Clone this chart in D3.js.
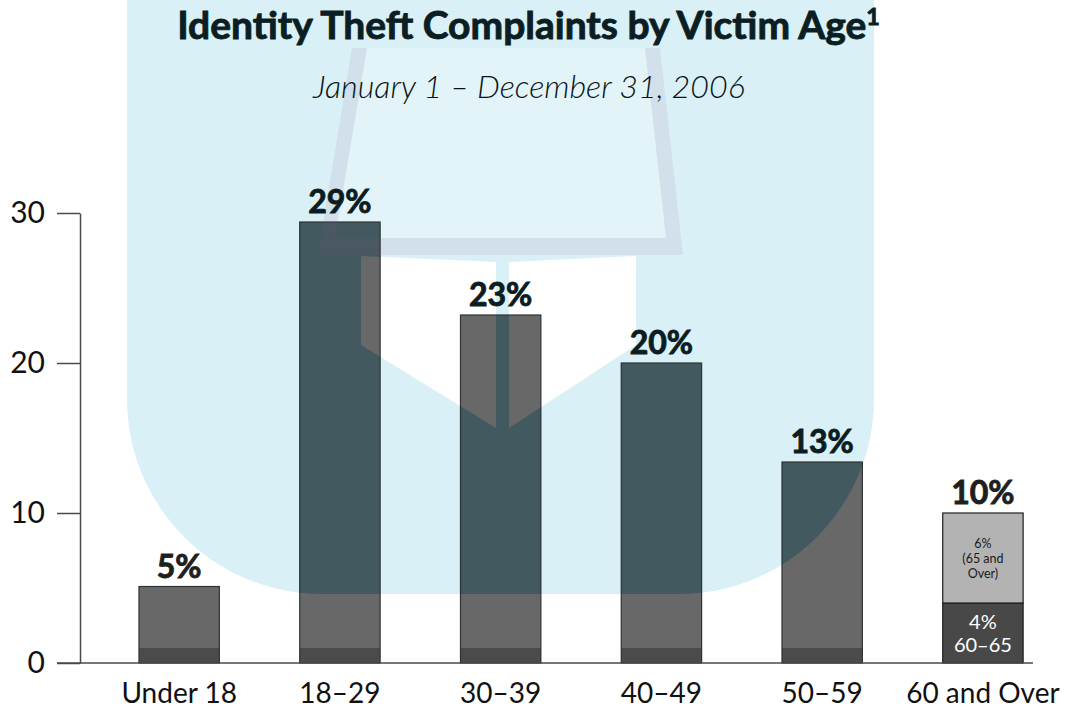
<!DOCTYPE html>
<html>
<head>
<meta charset="utf-8">
<script src="https://cdn.jsdelivr.net/npm/d3@7"></script>
<style>
  html, body { margin: 0; padding: 0; background: #fff; }
  svg { display: block; font-family: Lato, "Open Sans", sans-serif; }
</style>
</head>
<body>
<svg id="chart" width="1081" height="710"></svg>
<script>
// ---- data ----
const categories = ["Under 18", "18–29", "30–39", "40–49", "50–59", "60 and Over"];
const shares = [5.1, 29.4, 23.2, 20, 13.4, 10];
const yTicks = [0, 10, 20, 30];
const breakdownCategory = "60 and Over";
const seniorGroups = ["60–65", "65 and Over"];
const seniorShares = [4, 6];
const seniorLines = [["4%", "60–65"], ["6%", "(65 and", "Over)"]];
const titleText = "Identity Theft Complaints by Victim Age";
const titleNote = "1";
const subtitleText = "January 1 – December 31, 2006";

// ---- layout ----
const W = 1081, H = 710;
const svg = d3.select("#chart");
const y = d3.scaleLinear().domain([0, 30]).range([663, 213]);
const x = d3.scaleBand().domain(categories).range([58.6, 1103.5])
  .paddingInner(0.5).paddingOuter(0.5);
const plinth = 1;            // darker foot of each bar, in axis units

// light-blue backdrop panel with a rounded lower edge
const panel = { x0: 127, x1: 874, bottom: 594, r: 195 };
function inPanel(px, py) {
  if (px < panel.x0 || px > panel.x1 || py > panel.bottom) return false;
  const cy = panel.bottom - panel.r;
  if (py <= cy) return true;
  if (px < panel.x0 + panel.r) return (px - panel.x0 - panel.r) ** 2 + (py - cy) ** 2 <= panel.r ** 2;
  if (px > panel.x1 - panel.r) return (px - panel.x1 + panel.r) ** 2 + (py - cy) ** 2 <= panel.r ** 2;
  return true;
}
// open-book pages sitting on the panel
const pages = [
  [[361, 256], [496, 262], [496, 428], [361, 345]],
  [[509, 262], [636, 256], [636, 345], [509, 428]]
];
const coverPath = "M352,48 L367,48 L335,238 L666,238 L645,48 L660,48 L683,255 L318,255 Z";

const defs = svg.append("defs");
const mask = defs.append("mask").attr("id", "panelMask")
  .attr("maskUnits", "userSpaceOnUse").attr("x", 0).attr("y", 0)
  .attr("width", W).attr("height", H);
mask.append("rect").attr("width", W).attr("height", H).attr("fill", "#000");
mask.append("rect").attr("x", panel.x0).attr("y", -400)
  .attr("width", panel.x1 - panel.x0).attr("height", panel.bottom + 400)
  .attr("rx", panel.r).attr("fill", "#fff");
mask.selectAll("polygon.pg").data(pages).join("polygon")
  .attr("points", d => d.join(" ")).attr("fill", "#000");

// ---- backdrop ----
const bg = svg.append("g");
bg.append("rect").attr("x", panel.x0).attr("y", -400)
  .attr("width", panel.x1 - panel.x0).attr("height", panel.bottom + 400)
  .attr("rx", panel.r).attr("fill", "#d9f0f6");
bg.append("path").attr("d", "M367,48 L645,48 L666,238 L335,238 Z")
  .attr("fill", "#fff").attr("opacity", 0.25);
bg.selectAll("polygon").data(pages).join("polygon")
  .attr("points", d => d.join(" ")).attr("fill", "#fff");

// ---- bars ----
const single = categories.map((c, i) => ({ c, v: shares[i] }))
  .filter(d => d.c !== breakdownCategory);

const barsG = svg.append("g");
barsG.selectAll("rect.bar").data(single).join("rect")
  .attr("class", "bar")
  .attr("x", d => x(d.c)).attr("y", d => y(d.v))
  .attr("width", x.bandwidth()).attr("height", d => y(0) - y(d.v))
  .attr("fill", "#686868");
barsG.selectAll("rect.plinth").data(single).join("rect")
  .attr("class", "plinth")
  .attr("x", d => x(d.c)).attr("y", y(plinth))
  .attr("width", x.bandwidth()).attr("height", y(0) - y(plinth))
  .attr("fill", "#4b4b4b");

// tinted portion of the bars where they sit on the panel
svg.append("g").attr("mask", "url(#panelMask)")
  .selectAll("rect").data(single).join("rect")
  .attr("x", d => x(d.c)).attr("y", d => y(d.v))
  .attr("width", x.bandwidth()).attr("height", d => y(0) - y(d.v))
  .attr("fill", "#41595f");

// bar outlines
svg.append("g").selectAll("rect").data(single).join("rect")
  .attr("x", d => x(d.c)).attr("y", d => y(d.v))
  .attr("width", x.bandwidth()).attr("height", d => y(0) - y(d.v))
  .attr("fill", "none").attr("stroke", "#2c3436").attr("stroke-width", 1.2);

// stacked breakdown bar
let acc = 0;
const segs = seniorGroups.map((g, i) => {
  const s = { g, y0: acc, y1: acc + seniorShares[i], lines: seniorLines[i] };
  acc += seniorShares[i];
  return s;
});
const segFill = ["#484848", "#b3b3b3"];
const segText = ["#ffffff", "#1a1a1a"];
const segFont = [20, 12.5];
const segLead = [23, 15];
const segG = svg.append("g");
segG.selectAll("rect").data(segs).join("rect")
  .attr("x", x(breakdownCategory)).attr("y", d => y(d.y1))
  .attr("width", x.bandwidth()).attr("height", d => y(d.y0) - y(d.y1))
  .attr("fill", (d, i) => segFill[i]).attr("stroke", "#1e1e1e").attr("stroke-width", 1.2);
segs.forEach((s, i) => {
  const cx = x(breakdownCategory) + x.bandwidth() / 2;
  const mid = (y(s.y0) + y(s.y1)) / 2;
  const n = s.lines.length;
  const first = mid - (n - 1) * segLead[i] / 2 + segFont[i] * 0.36;
  segG.append("text").attr("text-anchor", "middle")
    .attr("font-size", segFont[i]).attr("fill", segText[i])
    .selectAll("tspan").data(s.lines).join("tspan")
    .attr("x", cx).attr("y", (d, k) => first + k * segLead[i])
    .text(d => d);
});

// cover of the book, a faint translucent frame over everything
svg.append("path").attr("d", coverPath).attr("fill", "rgb(160,90,140)")
  .attr("opacity", 0.1);

// ---- axes ----
const yAxis = svg.append("g").attr("transform", "translate(80,0)")
  .call(d3.axisLeft(y).tickValues(yTicks).tickSize(23).tickPadding(12).tickSizeOuter(0));
yAxis.select(".domain").attr("stroke", "#4a4a4a").attr("stroke-width", 1.5);
yAxis.selectAll(".tick line").attr("stroke", "#4a4a4a").attr("stroke-width", 1.5);
yAxis.selectAll(".tick text").attr("font-size", 30).attr("fill", "#111")
  .attr("font-family", "Lato, sans-serif");

svg.append("line").attr("x1", 57).attr("x2", 1033)
  .attr("y1", y(0)).attr("y2", y(0))
  .attr("stroke", "#4a4a4a").attr("stroke-width", 1.5);

const xAxis = svg.append("g").attr("transform", `translate(0,${y(0)})`)
  .call(d3.axisBottom(x).tickSize(0).tickPadding(20));
xAxis.select(".domain").remove();
xAxis.selectAll(".tick text").attr("font-size", 28).attr("fill", "#111")
  .attr("font-family", "Lato, sans-serif");

// ---- value labels (a thin matching stroke gives a heavier weight) ----
svg.append("g").selectAll("text").data(categories.map((c, i) => ({ c, v: shares[i] })))
  .join("text")
  .attr("x", d => x(d.c) + x.bandwidth() / 2)
  .attr("y", d => y(d.v) - 9)
  .attr("text-anchor", "middle")
  .attr("font-size", 32).attr("font-weight", 700)
  .attr("fill", d => inPanel(x(d.c) + x.bandwidth() / 2, y(d.v) - 20) ? "#0b1d22" : "#1f1f1f")
  .attr("stroke", d => inPanel(x(d.c) + x.bandwidth() / 2, y(d.v) - 20) ? "#0b1d22" : "#1f1f1f")
  .attr("stroke-width", 0.9)
  .text(d => Math.round(d.v) + "%");

// ---- titles ----
const title = svg.append("text").attr("x", 528.5).attr("y", 39)
  .attr("text-anchor", "middle").attr("font-weight", 700)
  .attr("font-size", 36).attr("fill", "#0b1e23")
  .attr("stroke", "#0b1e23").attr("stroke-width", 0.9);
title.append("tspan").text(titleText);
const note = title.append("tspan").attr("font-size", 22).attr("dy", -13).text(titleNote);
{
  const w = title.node().getComputedTextLength();
  const fs = 36 * 703 / w;
  title.attr("font-size", fs);
  note.attr("font-size", fs * 0.6).attr("dy", -fs * 0.36);
}

const sub = svg.append("text").attr("x", 529).attr("y", 98)
  .attr("text-anchor", "middle").attr("font-style", "italic").attr("font-weight", 300)
  .attr("font-size", 28).attr("fill", "#0a1418").text(subtitleText);
{
  const w = sub.node().getComputedTextLength();
  sub.attr("font-size", 28 * 432 / w);
}
</script>
</body>
</html>
